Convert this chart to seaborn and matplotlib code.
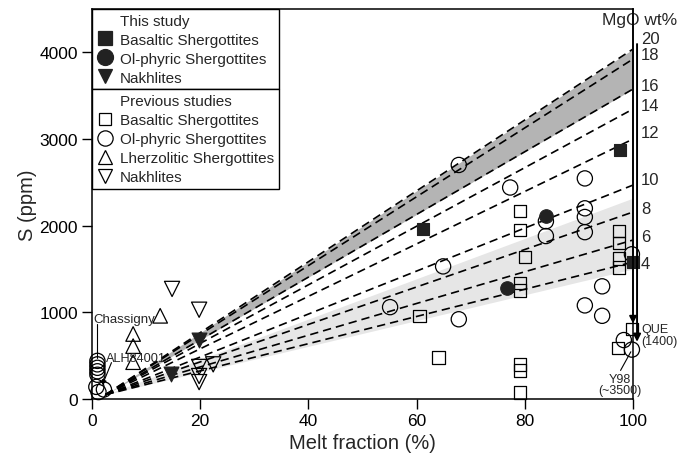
import numpy as np
import pandas as pd
import matplotlib
matplotlib.use("Agg")
import matplotlib.pyplot as plt
from matplotlib.lines import Line2D
import seaborn as sns

# ---------------- data ----------------
# This study
this_bas_x = [61.2, 97.6, 100.0]
this_bas_S = [1960, 2870, 1580]
this_ol_x = [76.7, 83.9]
this_ol_S = [1280, 2110]
this_nak_x = [14.6, 19.8]
this_nak_S = [290, 680]

# Previous studies
prev_bas_x = [60.5, 64.0, 79.1, 79.1, 80.0, 79.1, 79.1, 79.1, 79.1, 79.1,
              97.4, 97.4, 97.4, 97.4, 97.2, 99.8]
prev_bas_S = [960, 480, 2170, 1950, 1640, 1340, 1250, 400, 330, 75,
              1940, 1800, 1620, 1520, 590, 810]
prev_ol_x = [1.0, 1.0, 1.0, 1.0, 1.0, 0.8, 2.2, 1.2,
             55.1, 64.9, 67.8, 67.8, 77.3, 83.9, 83.9, 91.1, 91.1, 91.1, 91.1,
             91.1, 94.3, 94.3, 99.8, 98.3, 99.8]
prev_ol_S = [440, 400, 360, 320, 280, 140, 110, 80,
             1060, 1530, 2700, 920, 2440, 2050, 1880, 2545, 2200, 2100, 1925,
             1080, 1300, 960, 1670, 680, 570]
prev_lhz_x = [12.6, 7.6, 7.6, 7.6]
prev_lhz_S = [960, 750, 610, 425]
prev_nak_x = [14.8, 19.8, 22.4, 19.8, 19.8, 19.8]
prev_nak_S = [1270, 1030, 400, 370, 265, 195]

# model lines (MgO wt%) : common origin and S at 100 % melt
line_origin = (2.5, 50)
mgo_labels = ["20", "18", "16", "14", "12", "10", "8", "6", "4"]
line_end_S = [4037, 3922, 3576, 3345, 2999, 2468, 2157, 1834, 1580]
mgo_label_S = [4164, 3979, 3622, 3391, 3080, 2537, 2203, 1880, 1569]
dark_band_S = (3576, 4037)
light_band_S = (1500, 2318)

x_ticks = [0, 20, 40, 60, 80, 100]
y_ticks = [0, 1000, 2000, 3000, 4000]

# ---------------- style ----------------
sns.set_style("ticks")
plt.rcParams["font.family"] = ["Liberation Sans", "DejaVu Sans"]
plt.rcParams["axes.linewidth"] = 1.1

fig = plt.figure(figsize=(6.77, 4.60), dpi=100)
ax = fig.add_axes([0.1359, 0.1304, 0.7991, 0.8480])

dark = "#222222"

# bands
ax.fill_between([line_origin[0], 100], [line_origin[1], dark_band_S[0]],
                [line_origin[1], dark_band_S[1]], color="#b4b4b4", lw=0, zorder=1)
ax.fill_between([line_origin[0], 100], [line_origin[1], light_band_S[0]],
                [line_origin[1], light_band_S[1]], color="#e6e6e6", lw=0, zorder=1)

# dashed model lines
rows = []
for i, s in enumerate(line_end_S):
    rows.append({"line": i, "x": line_origin[0], "S": line_origin[1]})
    rows.append({"line": i, "x": 100.0, "S": s})
lines_df = pd.DataFrame(rows)
sns.lineplot(data=lines_df, x="x", y="S", units="line", estimator=None,
             color="black", lw=1.2, linestyle=(0, (5, 3)), ax=ax, zorder=2,
             legend=False)

# scatter points
def pts(x, y, marker, s, filled, z=3):
    if filled:
        sns.scatterplot(x=x, y=y, marker=marker, s=s, color=dark,
                        edgecolor=dark, linewidth=0.8, ax=ax, zorder=z,
                        clip_on=False, legend=False)
    else:
        sns.scatterplot(x=x, y=y, marker=marker, s=s, facecolor="none",
                        edgecolor="black", linewidth=0.9, ax=ax, zorder=z,
                        clip_on=False, legend=False)

pts(prev_bas_x, prev_bas_S, "s", 82, False)
pts(prev_ol_x, prev_ol_S, "o", 120, False)
pts(prev_lhz_x, prev_lhz_S, "^", 110, False)
pts(prev_nak_x, prev_nak_S, "v", 120, False)
pts(this_bas_x, this_bas_S, "s", 82, True, 4)
pts(this_ol_x, this_ol_S, "o", 95, True, 4)
pts(this_nak_x, this_nak_S, "v", 115, True, 4)

# axes setup
ax.set_xlim(0, 100)
ax.set_ylim(0, 4500)
ax.set_xticks(x_ticks)
ax.set_yticks(y_ticks)
ax.tick_params(axis="both", direction="out", length=7, width=1.0,
               labelsize=12.5, pad=3, colors="black")
ax.set_xlabel("Melt fraction (%)", fontsize=14.5, labelpad=4)
ax.set_ylabel("S (ppm)", fontsize=14.5, labelpad=2)
for sp in ax.spines.values():
    sp.set_visible(True)
    sp.set_color("black")

# MgO scale labels on the right
for lab, s in zip(mgo_labels, mgo_label_S):
    ax.text(101.5, s, lab, fontsize=12, ha="left", va="center", clip_on=False)
ax.text(101.2, 4380, "MgO wt%", fontsize=12.5, ha="center", va="center",
        clip_on=False)

# vertical arrows at 100 %
ax.annotate("", xy=(100.0, 870), xytext=(100.0, 4500),
            arrowprops=dict(arrowstyle="-|>", color="black", lw=1.2,
                            mutation_scale=11, shrinkA=0, shrinkB=0),
            annotation_clip=False, zorder=5)
ax.annotate("", xy=(100.75, 660), xytext=(100.75, 4095),
            arrowprops=dict(arrowstyle="-|>", color="black", lw=1.4,
                            mutation_scale=11, shrinkA=0, shrinkB=0),
            annotation_clip=False, zorder=5)

# annotations
ax.text(101.5, 738, "QUE\n(1400)", fontsize=9, ha="left", va="center",
        linespacing=0.95, clip_on=False)
ax.text(97.6, 165, "Y98\n(~3500)", fontsize=9, ha="center", va="center",
        linespacing=0.95, clip_on=False)
ax.plot([97.7, 99.6], [330, 545], color="black", lw=0.8, zorder=5)

ax.text(0.2, 922, "Chassigny", fontsize=9.5, ha="left", va="center")
ax.plot([1.0, 1.0], [860, 470], color="black", lw=0.8, zorder=5)
ax.text(2.6, 473, "ALH84001", fontsize=9.2, ha="left", va="center")
ax.annotate("", xy=(1.9, 160), xytext=(3.6, 420),
            arrowprops=dict(arrowstyle="-|>", color="black", lw=0.8,
                            mutation_scale=7, shrinkA=0, shrinkB=0), zorder=5)

# legends
def h(marker, filled, ms):
    if marker is None:
        return Line2D([], [], linestyle="none", marker="None")
    return Line2D([], [], linestyle="none", marker=marker, markersize=ms,
                  markerfacecolor=dark if filled else "none",
                  markeredgecolor=dark if filled else "black",
                  markeredgewidth=0.9)

leg_kw = dict(loc="upper left", mode="expand", borderaxespad=0,
              fontsize=11, frameon=True, fancybox=False, framealpha=1,
              edgecolor="black", borderpad=0.3, labelspacing=0.33,
              handlelength=1.15, handletextpad=0.35, handleheight=0.7)

leg1 = ax.legend([h(None, False, 0), h("s", True, 9.5), h("o", True, 11.5),
                  h("v", True, 10)],
                 ["This study", "Basaltic Shergottites", "Ol-phyric Shergottites",
                  "Nakhlites"],
                 bbox_to_anchor=(0, 1, 0.3457, 0), **leg_kw)
leg1.get_frame().set_linewidth(1.0)
leg1.set_zorder(10)
ax.add_artist(leg1)

fig.canvas.draw()
bb = leg1.get_window_extent().transformed(ax.transAxes.inverted())
leg2 = ax.legend([h(None, False, 0), h("s", False, 8), h("o", False, 11),
                  h("^", False, 10.5), h("v", False, 10.5)],
                 ["Previous studies", "Basaltic Shergottites",
                  "Ol-phyric Shergottites", "Lherzolitic Shergottites",
                  "Nakhlites"],
                 bbox_to_anchor=(0, bb.y0, 0.3457, 0), **leg_kw)
leg2.get_frame().set_linewidth(1.0)
leg2.set_zorder(10)

fig.savefig("out.png", dpi=100)
